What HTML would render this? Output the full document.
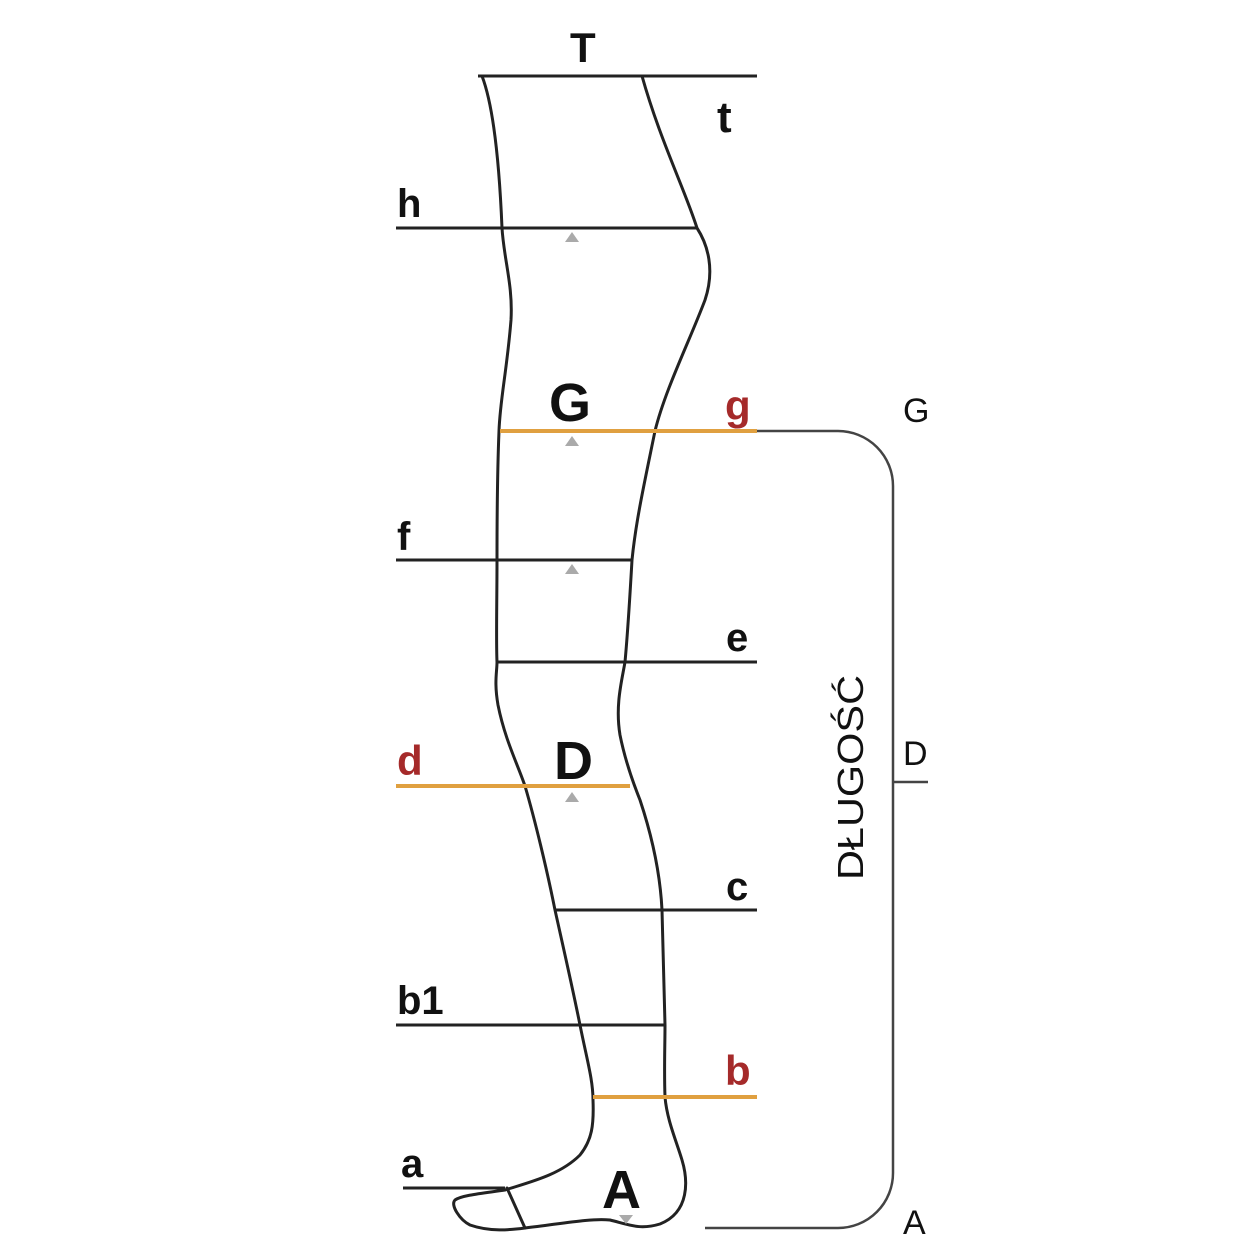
<!DOCTYPE html>
<html><head><meta charset="utf-8"><style>
html,body{margin:0;padding:0;background:#fff;}
svg{display:block;}
text{font-family:"Liberation Sans",sans-serif;}
</style></head><body>
<svg width="1250" height="1250" viewBox="0 0 1250 1250" xmlns="http://www.w3.org/2000/svg">
<rect width="1250" height="1250" fill="#fff"/>
<g fill="none" stroke="#222" stroke-width="3" stroke-linejoin="round" stroke-linecap="round">
<path d="M482,76 C495,110 500,180 502,228 C504,260 513,285 511,320 C507,370 500,400 499,431 C497,480 497,530 497,560 C497,600 496,640 497,662 C497,672 494,682 498,705 C505,740 518,765 525,786 C535,820 547,870 555,910 C565,955 573,990 580,1025 C587,1060 593,1080 593,1100 C594,1125 592,1140 580,1155 C560,1175 530,1182 505,1190"/>
<path d="M505,1190 C485,1193 462,1195 455,1200 C450,1205 460,1220 470,1225 C490,1232 510,1230 525,1228 C560,1224 590,1218 610,1220 C630,1225 640,1230 660,1224 C690,1212 688,1180 682,1160 C676,1140 667,1120 665,1097 C664,1070 665,1045 665,1025 C664,990 663,950 662,910 C660,870 650,830 640,800 C632,780 625,760 620,735 C615,705 622,680 625,662 C628,630 630,595 632,560 C636,520 645,480 655,431 C665,390 690,340 705,300 C715,270 708,245 697,228 C685,190 660,140 642,76"/>
<line x1="507" y1="1188" x2="525" y2="1228"/>
</g>
<g stroke="#222" stroke-width="3">
<line x1="478" y1="76" x2="757" y2="76"/>
<line x1="396" y1="228" x2="697" y2="228"/>
<line x1="396" y1="560" x2="632" y2="560"/>
<line x1="497" y1="662" x2="757" y2="662"/>
<line x1="555" y1="910" x2="757" y2="910"/>
<line x1="396" y1="1025" x2="665" y2="1025"/>
<line x1="403" y1="1188" x2="505" y2="1188"/>
</g>
<g stroke="#e0a040" stroke-width="4">
<line x1="500" y1="431" x2="757" y2="431"/>
<line x1="396" y1="786" x2="630" y2="786"/>
<line x1="593" y1="1097" x2="757" y2="1097"/>
</g>
<g fill="none" stroke="#444" stroke-width="2.5">
<path d="M757,431 L838,431 A55,55 0 0 1 893,486 L893,1173 A55,55 0 0 1 838,1228 L705,1228"/>
<line x1="893" y1="782" x2="928" y2="782"/>
</g>
<g fill="#aaa">
<polygon points="565,242 579,242 572,232"/>
<polygon points="565,446 579,446 572,436"/>
<polygon points="565,574 579,574 572,564"/>
<polygon points="565,802 579,802 572,792"/>
<polygon points="619,1215 633,1215 626,1224"/>
</g>
<g fill="#111" font-weight="bold">
<text x="570" y="62" font-size="42">T</text>
<text x="717" y="132" font-size="44">t</text>
<text x="397" y="217" font-size="40">h</text>
<text x="397" y="550" font-size="40">f</text>
<text x="726" y="651" font-size="40">e</text>
<text x="726" y="900" font-size="40">c</text>
<text x="397" y="1014" font-size="40">b1</text>
<text x="401" y="1177" font-size="40">a</text>
<text x="549" y="421" font-size="54">G</text>
<text x="554" y="779" font-size="54">D</text>
<text x="602" y="1208" font-size="54">A</text>
</g>
<g fill="#111">
<text x="903" y="422" font-size="34">G</text>
<text x="903" y="765" font-size="34">D</text>
<text x="903" y="1234" font-size="34">A</text>
<text transform="translate(863,880) rotate(-90)" font-size="36" textLength="205" lengthAdjust="spacingAndGlyphs">DŁUGOŚĆ</text>
</g>
<g fill="#a52a2a" font-weight="bold">
<text x="725" y="420" font-size="42">g</text>
<text x="397" y="775" font-size="42">d</text>
<text x="725" y="1085" font-size="42">b</text>
</g>
</svg>
</body></html>
